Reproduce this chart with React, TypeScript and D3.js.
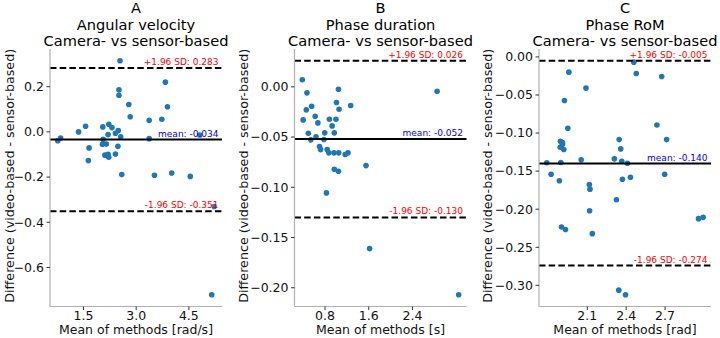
import * as d3 from "d3";

// Bland-Altman data: [mean of methods, difference (video - sensor)]
const angularVelocity: [number, number][] = [
  [2.54, 0.315], [3.83, 0.22], [2.51, 0.186], [2.51, 0.162], [2.79, 0.121],
  [3.89, 0.111], [2.83, 0.067], [3.37, 0.051], [3.73, 0.056], [1.56, 0.025],
  [1.36, 0.0], [2.05, 0.022], [2.22, 0.034], [2.31, 0.019], [2.49, 0.006],
  [2.41, -0.006], [2.2, -0.012], [2.56, -0.022], [0.85, -0.027], [0.77, -0.039],
  [2.06, -0.033], [3.37, -0.03], [4.81, -0.014], [1.66, -0.071], [2.04, -0.055],
  [2.15, -0.054], [2.48, -0.064], [1.64, -0.127], [2.11, -0.103], [2.2, -0.099],
  [2.22, -0.112], [2.41, -0.098], [2.59, -0.189], [3.52, -0.192], [4.01, -0.182],
  [4.54, -0.197], [5.22, -0.33], [5.15, -0.721],
];

const phaseDuration: [number, number][] = [
  [0.385, 0.007], [0.47, -0.006], [1.046, -0.0024], [2.85, -0.0044], [0.458, -0.0229],
  [0.556, -0.0193], [1.01, -0.0156], [1.057, -0.0223], [1.27, -0.0186], [0.4, -0.0329],
  [0.62, -0.0293], [0.67, -0.0359], [0.88, -0.0323], [1.0, -0.0323], [0.93, -0.0389],
  [0.795, -0.0458], [0.97, -0.0458], [0.495, -0.0462], [0.635, -0.0498], [0.54, -0.0528],
  [0.78, -0.0525], [0.7, -0.0595], [0.72, -0.0625], [0.84, -0.0625], [0.87, -0.0657],
  [0.965, -0.0657], [1.05, -0.0657], [1.17, -0.0674], [1.22, -0.0657], [1.55, -0.0784],
  [0.97, -0.082], [1.046, -0.084], [0.826, -0.1056], [1.616, -0.161], [3.245, -0.207],
];

const phaseRom: [number, number][] = [
  [2.459, -0.0069], [1.958, -0.02], [2.478, -0.0219], [2.674, -0.0258], [2.09, -0.041],
  [1.924, -0.0572], [1.95, -0.0938], [2.637, -0.0894], [1.893, -0.1109], [1.909, -0.1126],
  [1.909, -0.1148], [1.891, -0.1187], [1.919, -0.1217], [2.346, -0.1086], [2.712, -0.1086],
  [2.358, -0.1208], [1.788, -0.1391], [2.053, -0.1352], [2.309, -0.1339], [2.366, -0.137],
  [2.41, -0.1397], [1.896, -0.1387], [1.821, -0.1541], [2.697, -0.1541], [2.371, -0.1606],
  [2.433, -0.158], [1.885, -0.1627], [2.116, -0.1675], [2.121, -0.1737], [2.325, -0.1876],
  [2.118, -0.202], [1.901, -0.2234], [1.932, -0.2268], [2.139, -0.2321], [2.958, -0.2124],
  [2.994, -0.2107], [2.343, -0.3063], [2.395, -0.3124],
];

// mean bias and limits of agreement (+1.96 SD, -1.96 SD)
const velocityStats = [-0.034, 0.283, -0.351];
const durationStats = [-0.052, 0.026, -0.13];
const romStats = [-0.14, -0.005, -0.274];

const velocityXTicks = [1.5, 3.0, 4.5];
const durationXTicks = [0.8, 1.6, 2.4];
const romXTicks = [2.1, 2.4, 2.7];
const velocityYTicks = [0.2, 0.0, -0.2, -0.4, -0.6];
const durationYTicks = [0.0, -0.05, -0.1, -0.15, -0.2];
const romYTicks = [0.0, -0.05, -0.1, -0.15, -0.2, -0.25, -0.3];

const panels = [
  {
    letter: "A", name: "Angular velocity", unit: "rad/s", points: angularVelocity,
    stats: velocityStats, xTicks: velocityXTicks, yTicks: velocityYTicks, yFmt: ".1f",
    left: 50, labelGap: 40,
  },
  {
    letter: "B", name: "Phase duration", unit: "s", points: phaseDuration,
    stats: durationStats, xTicks: durationXTicks, yTicks: durationYTicks, yFmt: ".2f",
    left: 294.5, labelGap: 51,
  },
  {
    letter: "C", name: "Phase RoM", unit: "rad", points: phaseRom,
    stats: romStats, xTicks: romXTicks, yTicks: romYTicks, yFmt: ".2f",
    left: 539, labelGap: 51.5,
  },
];

const TOP = 49;
const BOTTOM = 306.5;
const PLOT_W = 172;
const FONT = "DejaVu Sans, sans-serif";
const DOT = "#1f77b4";

// matplotlib-style 5% padding around the data range
function padded(values: number[]): [number, number] {
  const [lo, hi] = d3.extent(values) as [number, number];
  const m = (hi - lo) * 0.05;
  return [lo - m, hi + m];
}

function BlandAltman({ p }: { p: (typeof panels)[number] }) {
  const [mean, upper, lower] = p.stats;
  const right = p.left + PLOT_W;
  const x = d3.scaleLinear().domain(padded(p.points.map((d) => d[0]))).range([p.left, right]);
  const y = d3
    .scaleLinear()
    .domain(padded(p.points.map((d) => d[1]).concat([upper, lower])))
    .range([BOTTOM, TOP]);
  const fy = d3.format(p.yFmt);
  const fx = d3.format(".1f");
  const cx = p.left + PLOT_W / 2;
  const cy = (TOP + BOTTOM) / 2 - 2;

  const refLines = [
    { v: upper, dash: "6.5,3.2", text: `+1.96 SD: ${upper.toFixed(3)}`, color: "red" },
    { v: mean, dash: undefined, text: `mean: ${mean.toFixed(3)}`, color: "blue" },
    { v: lower, dash: "6.5,3.2", text: `-1.96 SD: ${lower.toFixed(3)}`, color: "red" },
  ];

  return (
    <g fontFamily={FONT}>
      <g textAnchor="middle" fontSize={14.6} fill="#000">
        <text x={cx} y={13.4}>{p.letter}</text>
        <text x={cx} y={29.8}>{p.name}</text>
        <text x={cx} y={46.4}>Camera- vs sensor-based</text>
      </g>

      {p.points.map((d, i) => (
        <circle key={i} cx={x(d[0])} cy={y(d[1])} r={2.8} fill={DOT} />
      ))}

      {refLines.map((l) => (
        <line
          key={l.text}
          x1={p.left}
          x2={right}
          y1={y(l.v)}
          y2={y(l.v)}
          stroke="#000"
          strokeWidth={2}
          strokeDasharray={l.dash}
        />
      ))}
      {refLines.map((l) => (
        <text
          key={"t" + l.text}
          x={right - 3.5}
          y={y(l.v) - 3}
          textAnchor="end"
          fontSize={9}
          fill={l.color}
        >
          {l.text}
        </text>
      ))}

      <line x1={p.left} x2={p.left} y1={TOP} y2={BOTTOM} stroke="#b0b0b0" strokeWidth={1.2} />
      <line x1={p.left} x2={right} y1={BOTTOM} y2={BOTTOM} stroke="#b0b0b0" strokeWidth={1.2} />

      {p.yTicks.map((t) => (
        <g key={"y" + t}>
          <line x1={p.left - 3.5} x2={p.left} y1={y(t)} y2={y(t)} stroke="#333" strokeWidth={1} />
          <text x={p.left - 6} y={y(t)} dy="0.35em" textAnchor="end" fontSize={12.5} fill="#111">
            {fy(t)}
          </text>
        </g>
      ))}
      {p.xTicks.map((t) => (
        <g key={"x" + t}>
          <line x1={x(t)} x2={x(t)} y1={BOTTOM} y2={BOTTOM + 3.5} stroke="#333" strokeWidth={1} />
          <text x={x(t)} y={BOTTOM + 13} textAnchor="middle" fontSize={12.5} fill="#111">
            {fx(t)}
          </text>
        </g>
      ))}

      <text x={cx} y={334} textAnchor="middle" fontSize={12.5} fill="#111">
        {`Mean of methods [${p.unit}]`}
      </text>
      <text
        transform={`translate(${p.left - p.labelGap},${cy}) rotate(-90)`}
        dy="0.35em"
        textAnchor="middle"
        fontSize={12.7}
        fill="#111"
      >
        Difference (video-based - sensor-based)
      </text>
    </g>
  );
}

export default function App() {
  return (
    <svg
      width={720}
      height={338}
      viewBox="0 0 720 338"
      style={{ position: "absolute", left: 0, top: 0, background: "#fff" }}
    >
      {panels.map((p) => (
        <BlandAltman key={p.letter} p={p} />
      ))}
    </svg>
  );
}
